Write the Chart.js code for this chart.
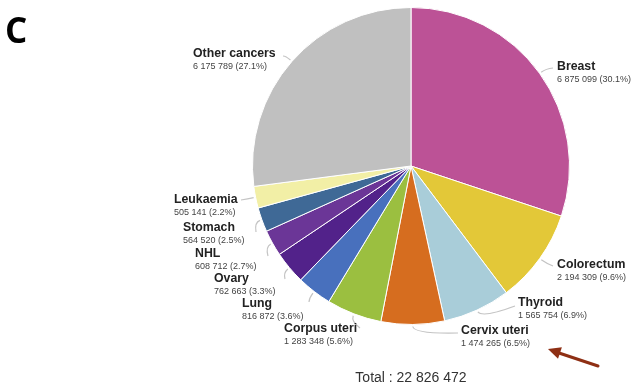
<!DOCTYPE html>
<html>
<head>
<meta charset="utf-8">
<script src="https://cdn.jsdelivr.net/npm/chart.js@4.4.1/dist/chart.umd.min.js"></script>
<style>
html,body{margin:0;padding:0;background:#fff;}
#wrap{position:relative;width:632px;height:386px;}
canvas{display:block;}
</style>
</head>
<body>
<div id="wrap"><canvas id="c" width="632" height="386"></canvas></div>
<script>
// ---- data ----
const categories = ["Breast","Colorectum","Thyroid","Cervix uteri","Corpus uteri","Lung","Ovary","NHL","Stomach","Leukaemia","Other cancers"];
const cases = [6875099,2194309,1565754,1474265,1283348,816872,762663,608712,564520,505141,6175789];
const sliceColors = ["#bc5296","#e3c838","#a9cdd9","#d66d1f","#9bbf40","#4870bd","#52228a","#6b3697","#3f6996","#f2efa6","#c0c0c0"];
const panelLetter = "C";
const totalLabel = "Total : 22 826 472";

// ---- label layout (text left x, name centre y, leader end) ----
const labelLayout = [
  {x:557,y:67, ex:553,ey:68},
  {x:557,y:265,ex:553,ey:266},
  {x:518,y:303,ex:515,ey:306, cx:483,cy:318},
  {x:461,y:331,ex:458,ey:333, cx:414,cy:334},
  {x:284,y:329,ex:360,ey:328},
  {x:242,y:304,ex:309,ey:302},
  {x:214,y:279,ex:285,ey:279},
  {x:195,y:254,ex:268,ey:256},
  {x:183,y:228,ex:256,ey:232},
  {x:174,y:200,ex:241,ey:200},
  {x:193,y:54, ex:283,ey:56}
];

function fmt(n){return String(n).replace(/\B(?=(\d{3})+(?!\d))/g," ");}
const total = cases.reduce((a,b)=>a+b,0);

const labelPlugin = {
  id:'labels',
  afterDraw(chart){
    const ctx = chart.ctx;
    const meta = chart.getDatasetMeta(0);
    ctx.save();
    meta.data.forEach((arc,i)=>{
      const p = arc.getProps(['x','y','startAngle','endAngle','outerRadius'],true);
      const mid = (p.startAngle+p.endAngle)/2;
      const sx = p.x + Math.cos(mid)*(p.outerRadius+2);
      const sy = p.y + Math.sin(mid)*(p.outerRadius+2);
      const L = labelLayout[i];
      ctx.strokeStyle = "#c4c4c4";
      ctx.lineWidth = 1.2;
      ctx.beginPath();
      ctx.moveTo(sx,sy);
      if(L.cx!==undefined){ ctx.quadraticCurveTo(L.cx,L.cy,L.ex,L.ey); }
      else {
        const mx = p.x + Math.cos(mid)*(p.outerRadius+8);
        const my = p.y + Math.sin(mid)*(p.outerRadius+8);
        ctx.quadraticCurveTo(mx,my,L.ex,L.ey);
      }
      ctx.stroke();
      ctx.textAlign = "left";
      ctx.textBaseline = "middle";
      ctx.fillStyle = "#222";
      ctx.font = "bold 12.3px 'Liberation Sans', Arial, sans-serif";
      ctx.fillText(categories[i], L.x, L.y);
      ctx.fillStyle = "#444";
      ctx.font = "9px 'Liberation Sans', Arial, sans-serif";
      const pct = (cases[i]/total*100).toFixed(1);
      ctx.fillText(fmt(cases[i])+" ("+pct+"%)", L.x, L.y+12.5);
    });
    // panel letter
    ctx.fillStyle = "#000";
    ctx.font = "bold 35px 'Open Sans', 'DejaVu Sans', sans-serif";
    ctx.textBaseline = "alphabetic";
    ctx.fillText(panelLetter, 5, 43);
    // total
    ctx.fillStyle = "#333";
    ctx.font = "14px 'Liberation Sans', Arial, sans-serif";
    ctx.textAlign = "center";
    ctx.textBaseline = "middle";
    ctx.fillText(totalLabel, 411, 378);
    // arrow
    ctx.strokeStyle = "#8e2f14";
    ctx.fillStyle = "#8e2f14";
    ctx.lineWidth = 3;
    ctx.lineCap = "round";
    ctx.beginPath();
    ctx.moveTo(598,366);
    ctx.lineTo(556,352);
    ctx.stroke();
    const ang = Math.atan2(352-366,556-598);
    ctx.beginPath();
    ctx.moveTo(548,349);
    ctx.lineTo(548-Math.cos(ang-0.45)*14, 349-Math.sin(ang-0.45)*14);
    ctx.lineTo(548-Math.cos(ang+0.45)*14, 349-Math.sin(ang+0.45)*14);
    ctx.closePath();
    ctx.fill();
    ctx.restore();
  }
};

new Chart(document.getElementById('c'),{
  type:'pie',
  data:{
    labels:categories,
    datasets:[{data:cases, backgroundColor:sliceColors, borderColor:"#ffffff", borderWidth:1}]
  },
  options:{
    responsive:false,
    animation:false,
    layout:{padding:{left:252,right:62,top:7,bottom:61}},
    plugins:{legend:{display:false},tooltip:{enabled:false}}
  },
  plugins:[labelPlugin]
});
</script>
</body>
</html>
